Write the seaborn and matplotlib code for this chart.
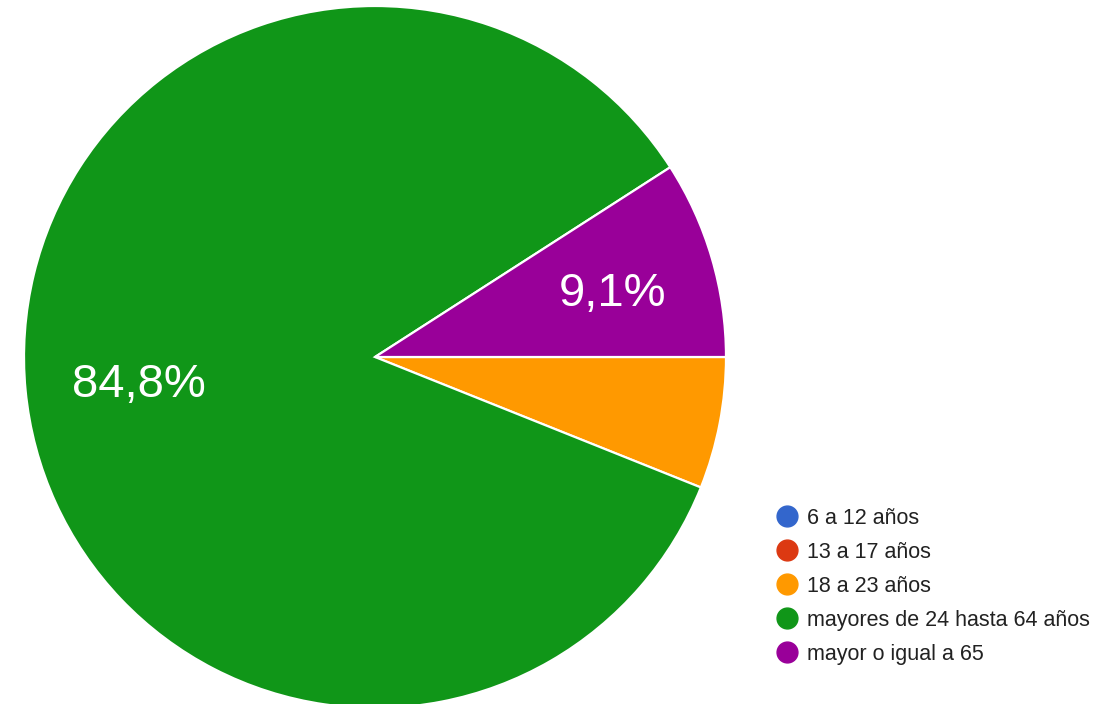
import matplotlib
matplotlib.use("Agg")
import matplotlib.pyplot as plt
from matplotlib.lines import Line2D
import seaborn as sns

categories = ["6 a 12 años", "13 a 17 años", "18 a 23 años",
              "mayores de 24 hasta 64 años", "mayor o igual a 65"]
values = [0, 0, 2, 28, 3]
colors = ["#3366cc", "#dc3912", "#ff9900", "#109618", "#990099"]

sns.set_theme(style="white")
plt.rcParams["font.family"] = ["Liberation Sans", "DejaVu Sans"]
palette = sns.color_palette(colors)

W, H = 1119, 704
fig = plt.figure(figsize=(W / 100, H / 100), dpi=100)
ax = fig.add_axes([0, 0, 1, 1])

def fmt(p):
    if p < 7:
        return ""
    return f"{p:.1f}%".replace(".", ",")

wedges, texts, autotexts = ax.pie(
    values, colors=palette, startangle=0, counterclock=False,
    center=(375, H - 357), radius=351, autopct=fmt, pctdistance=0.69,
    wedgeprops=dict(edgecolor="white", linewidth=1.6),
    textprops=dict(color="white", fontsize=34),
)
# small label offset to match the reference placement
for t in autotexts:
    x, y = t.get_position()
    t.set_position((x + 5, y - 5))

ax.set_xlim(0, W)
ax.set_ylim(0, H)
ax.set_aspect("auto")
ax.axis("off")

handles = [Line2D([0], [0], marker="o", linestyle="", markersize=15,
                  markerfacecolor=c, markeredgecolor=c) for c in colors]
leg = ax.legend(handles, categories, loc="upper left",
                bbox_to_anchor=(776 / W, 1 - 508 / H), bbox_transform=fig.transFigure,
                frameon=False, fontsize=15.5, labelspacing=0.60,
                handlelength=1.0, handletextpad=0.42, borderpad=0, borderaxespad=0)
for t in leg.get_texts():
    t.set_color("#222222")

fig.savefig("out.png", dpi=100)
